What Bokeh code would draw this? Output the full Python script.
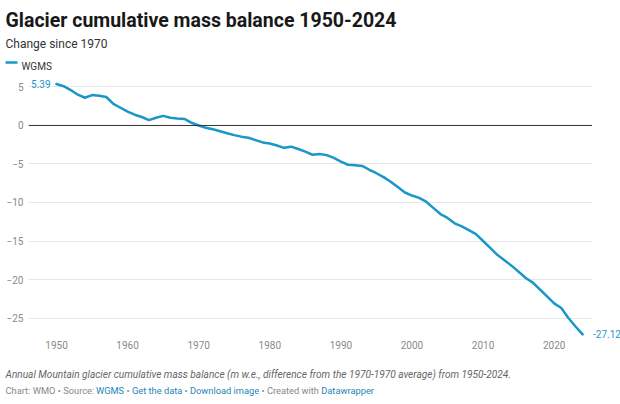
from bokeh.plotting import figure
from bokeh.models import FixedTicker, Span, ColumnDataSource, Range1d
from bokeh.layouts import column, row
from bokeh.core.properties import value
from bokeh.embed import file_html
from bokeh.resources import INLINE

years = list(range(1950, 2025))
wgms = [5.39, 5.1, 4.6, 4.0, 3.6, 3.95, 3.85, 3.7, 2.8, 2.3,
        1.8, 1.4, 1.1, 0.7, 1.0, 1.25, 1.0, 0.9, 0.85, 0.35,
        0.0, -0.3, -0.5, -0.75, -1.0, -1.25, -1.45, -1.6, -1.9, -2.2,
        -2.35, -2.6, -2.9, -2.75, -3.05, -3.4, -3.8, -3.7, -3.85, -4.2,
        -4.7, -5.1, -5.15, -5.25, -5.75, -6.2, -6.7, -7.3, -8.0, -8.7,
        -9.1, -9.4, -9.9, -10.7, -11.5, -12.0, -12.7, -13.1, -13.6, -14.1,
        -15.0, -15.9, -16.8, -17.5, -18.2, -19.0, -19.8, -20.4, -21.3, -22.2,
        -23.1, -23.7, -25.0, -26.1, -27.12]
x_ticks = [1950, 1960, 1970, 1980, 1990, 2000, 2010, 2020]
y_ticks = [5, 0, -5, -10, -15, -20, -25]
y_tick_labels = ["5", "0", "\u22125", "\u221210", "\u221215", "\u221220", "\u221225"]

title = "Glacier cumulative mass balance 1950-2024"
subtitle = "Change since 1970"
series_name = "WGMS"
notes = "Annual Mountain glacier cumulative mass balance (m w.e., difference from the 1970-1970 average) from 1950-2024."
footer_parts = ["Chart: WMO \u2022 Source:", "WGMS", "\u2022", "Get the data", "\u2022",
                "Download image", "\u2022 Created with", "Datawrapper"]
footer_is_link = [False, True, False, True, False, True, False, True]

BLUE = "#1a97c9"
LINK = "#1f85b8"
GREY = "#888888"
FONT = "Roboto"

W = 620
HEAD_H = 76
MAIN_H = 282
FOOT_H = 404 - HEAD_H - MAIN_H
LEFT_B = 28
RIGHT_W = 28
TOP_B = 0
BOT_B = 20

y_range = Range1d(-27.66, 6.36)


def blank(width, height, xr, yr):
    f = figure(width=width, height=height, output_backend="svg", toolbar_location=None,
               x_range=xr, y_range=yr, x_axis_type=None, y_axis_type=None,
               min_border=0)
    f.outline_line_color = None
    f.grid.visible = False
    f.background_fill_color = "white"
    f.border_fill_color = "white"
    return f


def txt(f, x, y, t, size, color, style="normal", align="left", baseline="alphabetic"):
    f.text(x=[x], y=[y], text=[t], text_font=value(FONT), text_font_size=value(size),
           text_color=color, text_font_style=value(style), text_align=value(align),
           text_baseline=value(baseline))


# ---- header ----
head = blank(W, HEAD_H, Range1d(0, W), Range1d(HEAD_H, 0))
txt(head, 5, 19.5, title, "19.5px", "#181818", "bold")
txt(head, 5, 43, subtitle, "12px", "#333333")
head.segment(x0=[5], y0=[62], x1=[17], y1=[62], line_color=BLUE, line_width=2.5)
txt(head, 21, 65.5, series_name, "10px", "#333333")

# ---- main chart ----
p = figure(width=W - RIGHT_W, height=MAIN_H, output_backend="svg", toolbar_location=None,
           x_range=Range1d(1946.06, 2025.39), y_range=y_range,
           min_border_left=LEFT_B, min_border_right=0,
           min_border_top=TOP_B, min_border_bottom=BOT_B)
p.outline_line_color = None
p.background_fill_color = "white"
p.border_fill_color = "white"

p.xaxis.ticker = FixedTicker(ticks=x_ticks)
p.yaxis.ticker = FixedTicker(ticks=y_ticks)
p.yaxis.major_label_overrides = {t: l for t, l in zip(y_ticks, y_tick_labels)}
for ax in (p.xaxis, p.yaxis):
    ax.axis_line_color = None
    ax.major_tick_line_color = None
    ax.minor_tick_line_color = None
    ax.major_tick_out = 0
    ax.major_tick_in = 0
    ax.major_label_text_font = FONT
    ax.major_label_text_font_size = "10px"
    ax.major_label_text_color = "#8a8a8a"
p.xaxis.major_label_standoff = 2
p.yaxis.major_label_standoff = 5

p.xgrid.grid_line_color = None
p.ygrid.grid_line_color = "#e6e6e6"
p.ygrid.grid_line_width = 1

p.add_layout(Span(location=0, dimension="width", line_color="#333333", line_width=1))

src = ColumnDataSource(dict(x=years, y=wgms))
p.line("x", "y", source=src, line_color=BLUE, line_width=2.5, line_join="round", line_cap="round")

p.text(x=[years[0]], y=[wgms[0]], text=[f"{wgms[0]:.2f}"], x_offset=-6,
       text_align=value("right"), text_baseline=value("middle"), text_font=value(FONT),
       text_font_size=value("10px"), text_color=BLUE)

# ---- right strip for the end label (shares the y scale) ----
side = figure(width=RIGHT_W, height=MAIN_H, output_backend="svg", toolbar_location=None,
              x_range=Range1d(0, RIGHT_W), y_range=y_range, x_axis_type=None, y_axis_type=None,
              min_border_left=0, min_border_right=0, min_border_top=TOP_B, min_border_bottom=BOT_B)
side.outline_line_color = None
side.grid.visible = False
side.border_fill_color = "white"
side.text(x=[0.5], y=[wgms[-1]], text=[f"{wgms[-1]:.2f}"],
          text_align=value("left"), text_baseline=value("middle"), text_font=value(FONT),
          text_font_size=value("10px"), text_color=BLUE)

# ---- footer ----
foot_top = HEAD_H + MAIN_H
foot = blank(W, FOOT_H, Range1d(0, W), Range1d(404, foot_top))
txt(foot, 5, 373.5, notes, "10.1px", "#666666", "italic")
footer_x = [5, 95.4, 126.0, 131.4, 184.0, 189.4, 261.0, 320.7]
for t, is_link, fx in zip(footer_parts, footer_is_link, footer_x):
    txt(foot, fx, 389.5, t, "9.3px", LINK if is_link else GREY)

layout = column(head, row(p, side, spacing=0), foot, spacing=0)
open("out.html", "w").write(file_html(layout, INLINE))
